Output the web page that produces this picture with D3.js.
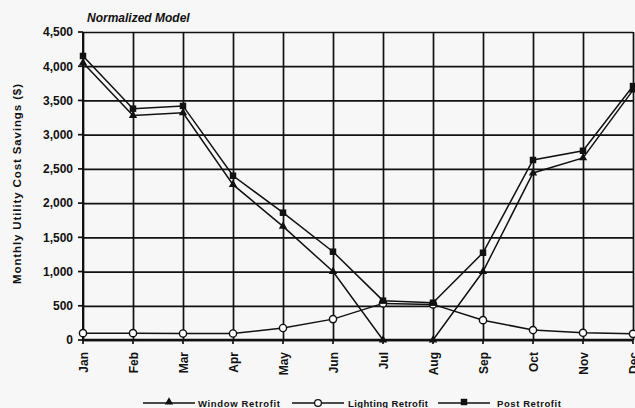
<!DOCTYPE html>
<html>
<head>
<meta charset="utf-8">
<script src="https://cdn.jsdelivr.net/npm/d3@7/dist/d3.min.js"></script>
<style>
  html, body { margin: 0; padding: 0; background: #f7f7f7; }
  svg { display: block; font-family: "Liberation Sans", Arial, sans-serif; }
</style>
</head>
<body>
<svg id="chart" width="635" height="408"></svg>
<script>
// Monthly utility cost savings, normalized model
const months = ["Jan","Feb","Mar","Apr","May","Jun","Jul","Aug","Sep","Oct","Nov","Dec"];
const windowRetrofit   = [4050, 3280, 3320, 2270, 1660, 1000, 0, 0, 1000, 2440, 2660, 3650];
const lightingRetrofit = [100, 100, 95, 95, 175, 305, 535, 520, 290, 145, 105, 90];
const postRetrofit     = [4150, 3380, 3420, 2400, 1860, 1290, 575, 545, 1275, 2630, 2765, 3710];
const yTicks = [0, 500, 1000, 1500, 2000, 2500, 3000, 3500, 4000, 4500];
const seriesNames = ["Window Retrofit", "Lighting Retrofit", "Post Retrofit"];

const svg = d3.select("#chart");
const plotLeft = 83, plotRight = 633, plotTop = 32, plotBottom = 340;

const x = d3.scalePoint().domain(months).range([plotLeft, plotRight]);
const y = d3.scaleLinear().domain([0, 4500]).range([plotBottom, plotTop]);

// Horizontal grid + y axis labels
const yAxis = svg.append("g")
  .attr("transform", `translate(${plotLeft},0)`)
  .call(d3.axisLeft(y).tickValues(yTicks).tickFormat(d3.format(",")).tickSizeInner(-(plotRight - plotLeft)).tickSizeOuter(0).tickPadding(10));
yAxis.select(".domain").remove();
yAxis.selectAll(".tick line").attr("stroke", "#111").attr("stroke-width", 1.7);
yAxis.selectAll(".tick text")
  .attr("fill", "#111").attr("font-size", 12).attr("font-weight", "bold");
// small outward ticks
svg.append("g").selectAll("line").data(yTicks).join("line")
  .attr("x1", plotLeft - 5).attr("x2", plotLeft).attr("y1", d => y(d)).attr("y2", d => y(d))
  .attr("stroke", "#111").attr("stroke-width", 1.7);

// Vertical grid + month labels
const xAxis = svg.append("g")
  .attr("transform", `translate(0,${plotBottom})`)
  .call(d3.axisBottom(x).tickSizeInner(-(plotBottom - plotTop)).tickSizeOuter(0).tickPadding(0));
xAxis.select(".domain").remove();
xAxis.selectAll(".tick line").attr("stroke", "#111").attr("stroke-width", 1.7);
xAxis.selectAll(".tick text")
  .attr("fill", "#111").attr("font-size", 12).attr("font-weight", "bold")
  .attr("text-anchor", "end").attr("dy", "0.35em")
  .attr("transform", "translate(0,12) rotate(-90)");
svg.append("g").selectAll("line").data(months).join("line")
  .attr("x1", d => x(d)).attr("x2", d => x(d)).attr("y1", plotBottom).attr("y2", plotBottom + 4)
  .attr("stroke", "#111").attr("stroke-width", 1.7);

// Baseline and left axis heavier
svg.append("line").attr("x1", plotLeft).attr("x2", plotRight).attr("y1", plotBottom).attr("y2", plotBottom)
  .attr("stroke", "#111").attr("stroke-width", 2.4);
svg.append("line").attr("x1", plotLeft).attr("x2", plotLeft).attr("y1", plotTop).attr("y2", plotBottom)
  .attr("stroke", "#111").attr("stroke-width", 2);

// Series lines
const line = d3.line().x((d, i) => x(months[i])).y(d => y(d));
[windowRetrofit, lightingRetrofit, postRetrofit].forEach(s => {
  svg.append("path").datum(s).attr("d", line)
    .attr("fill", "none").attr("stroke", "#111").attr("stroke-width", 1.5);
});

const triangle = d3.symbol().type(d3.symbolTriangle).size(30);
const square = d3.symbol().type(d3.symbolSquare).size(42);

svg.append("g").selectAll("path").data(windowRetrofit).join("path")
  .attr("d", triangle).attr("fill", "#111")
  .attr("transform", (d, i) => `translate(${x(months[i])},${y(d)})`);
svg.append("g").selectAll("circle").data(lightingRetrofit).join("circle")
  .attr("cx", (d, i) => x(months[i])).attr("cy", d => y(d)).attr("r", 3.6)
  .attr("fill", "#fff").attr("stroke", "#111").attr("stroke-width", 1.4);
svg.append("g").selectAll("path").data(postRetrofit).join("path")
  .attr("d", square).attr("fill", "#111")
  .attr("transform", (d, i) => `translate(${x(months[i])},${y(d)})`);

// Title
svg.append("text").attr("x", 87).attr("y", 22)
  .attr("font-size", 12).attr("font-weight", "bold").attr("font-style", "italic")
  .attr("fill", "#111").text("Normalized Model");

// Y axis title
svg.append("text")
  .attr("transform", `translate(21,184) rotate(-90)`)
  .attr("text-anchor", "middle")
  .attr("font-size", 11.5).attr("font-weight", "bold").attr("fill", "#111")
  .attr("textLength", 200).attr("lengthAdjust", "spacing")
  .text("Monthly Utility Cost Savings ($)");

// Legend
const legendY = 403;
const legend = [
  { x0: 143, name: seriesNames[0], mark: "tri", tx: 198, tw: 82 },
  { x0: 292, name: seriesNames[1], mark: "circ", tx: 348, tw: 80 },
  { x0: 438, name: seriesNames[2], mark: "sq", tx: 497, tw: 64 }
];
const lg = svg.append("g");
legend.forEach(l => {
  lg.append("line").attr("x1", l.x0).attr("x2", l.x0 + 52).attr("y1", legendY).attr("y2", legendY)
    .attr("stroke", "#111").attr("stroke-width", 1.4);
  const cx = l.x0 + 26;
  if (l.mark === "tri") {
    lg.append("path").attr("d", triangle).attr("fill", "#111").attr("transform", `translate(${cx},${legendY - 1})`);
  } else if (l.mark === "circ") {
    lg.append("circle").attr("cx", cx).attr("cy", legendY).attr("r", 3.4)
      .attr("fill", "#fff").attr("stroke", "#111").attr("stroke-width", 1.3);
  } else {
    lg.append("path").attr("d", square).attr("fill", "#111").attr("transform", `translate(${cx},${legendY - 1})`);
  }
  lg.append("text").attr("x", l.tx).attr("y", legendY + 3.5)
    .attr("font-size", 9.5).attr("font-weight", "bold").attr("fill", "#111")
    .attr("textLength", l.tw).attr("lengthAdjust", "spacing")
    .text(l.name);
});
</script>
</body>
</html>
